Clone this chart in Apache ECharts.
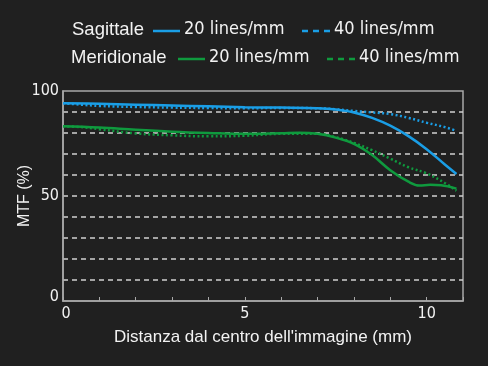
<!DOCTYPE html>
<html><head><meta charset="utf-8">
<style>html,body{margin:0;padding:0;background:#202020;}#c{width:488px;height:366px;}</style>
<script src="https://cdn.jsdelivr.net/npm/echarts@6/dist/echarts.min.js"></script>
</head><body><div id="c"></div>
<script>
// Distance from image centre (mm) and MTF (%) values
const sag20X = [0, 1, 2, 3, 4, 5, 6, 7, 7.5, 8, 8.5, 9, 9.5, 10, 10.5, 10.82];
const sag20Y = [94.2, 93.9, 93.5, 93.1, 92.7, 92.3, 92.1, 91.8, 91.2, 89.8, 87.2, 83.5, 78.5, 72.3, 65, 60.5];
const sag40X = [0, 0.5, 1, 2, 3, 4, 5, 6, 7, 7.5, 8, 8.5, 9, 9.5, 10, 10.5, 10.82];
const sag40Y = [94.2, 93.5, 92.9, 92.4, 92.1, 91.9, 91.8, 91.9, 91.8, 91.3, 90.5, 89.8, 89, 87.2, 84.9, 82.8, 81];
const mer20X = [0, 1, 2, 3, 4, 5, 6, 6.5, 7, 7.5, 8, 8.5, 9, 9.5, 9.8, 10.1, 10.4, 10.6, 10.82];
const mer20Y = [83.2, 82.6, 81.5, 80.6, 80, 79.6, 79.9, 80.1, 79.6, 77.8, 74.8, 69.5, 62.3, 56.8, 55, 55.3, 55.1, 54.5, 53.5];
const mer40X = [0, 0.5, 1, 2, 3, 4, 5, 6, 7, 7.5, 8, 8.5, 9, 9.5, 10, 10.5, 10.82];
const mer40Y = [83.2, 82.8, 81.8, 79.8, 78.9, 78.4, 78.7, 79.6, 79.6, 78, 75.3, 71.8, 67.8, 63.7, 60.8, 56.2, 52.5];
const xTickLabels = [0, 5, 10];
const yTickLabels = [0, 50, 100];
const groupNames = ['Sagittale', 'Meridionale'];
const freqNames = ['20 lines/mm', '40 lines/mm'];

const BLUE = '#1a9ee6', GREEN = '#0f9a3e', TXT = '#f2f2f2';
const TICKFONT = '"DejaVu Sans Condensed", sans-serif';
const pts = (xs, ys) => xs.map((x, i) => [x, ys[i]]);

function legendRow(y, label, labelX, color, l1x, t1x, l2x, t2x) {
  return [
    {type: 'text', left: labelX, top: y - 11, style: {text: label, fill: TXT, font: '18.5px "Liberation Sans", Arial, sans-serif'}},
    {type: 'line', shape: {x1: l1x, y1: y, x2: l1x + 27, y2: y}, style: {stroke: color, lineWidth: 2.5}},
    {type: 'text', left: t1x, top: y - 11, style: {text: freqNames[0], fill: TXT, font: '18px "DejaVu Sans Condensed", sans-serif'}},
    {type: 'line', shape: {x1: l2x, y1: y, x2: l2x + 28, y2: y}, style: {stroke: color, lineWidth: 2.5, lineDash: [6, 5]}},
    {type: 'text', left: t2x, top: y - 11, style: {text: freqNames[1], fill: TXT, font: '18px "DejaVu Sans Condensed", sans-serif'}}
  ];
}

const chart = echarts.init(document.getElementById('c'));
chart.setOption({
  backgroundColor: '#202020',
  animation: false,
  grid: {left: 63, right: 25, top: 91, bottom: 65, show: true, borderColor: '#a8a8a8', borderWidth: 1.5},
  xAxis: {
    type: 'value', min: 0, max: 11, interval: 1,
    name: "Distanza dal centro dell'immagine (mm)", nameLocation: 'middle', nameGap: 28,
    nameTextStyle: {color: TXT, fontSize: 17, fontFamily: '"Liberation Sans", Arial, sans-serif'},
    axisLine: {show: true, lineStyle: {color: '#a8a8a8', width: 1.5}},
    axisTick: {show: true, inside: true, length: 4, lineStyle: {color: '#a8a8a8'}},
    axisLabel: {color: TXT, fontSize: 16, fontFamily: TICKFONT, margin: 5,
      formatter: v => v === 0 ? '{z|0}' : (xTickLabels.includes(v) ? String(v) : ''),
      rich: {z: {fontSize: 16, fontFamily: TICKFONT, color: TXT, padding: [0, 0, 0, 6]}}},
    splitLine: {show: false}
  },
  yAxis: {
    type: 'value', min: 0, max: 100, interval: 10,
    name: 'MTF (%)', nameLocation: 'middle', nameGap: 30, nameRotate: 90, nameMoveOverlap: false,
    nameTextStyle: {color: TXT, fontSize: 16, fontFamily: '"Liberation Sans", Arial, sans-serif'},
    axisLine: {show: true, lineStyle: {color: '#a8a8a8', width: 1.5}},
    axisTick: {show: false},
    axisLabel: {color: TXT, fontSize: 16, fontFamily: TICKFONT, margin: 4,
      formatter: v => v === 0 ? '{z|0}' : (yTickLabels.includes(v) ? String(v) : ''),
      rich: {z: {fontSize: 16, fontFamily: TICKFONT, color: TXT, padding: [0, 0, 8, 0]}}},
    splitLine: {show: true, lineStyle: {color: ['transparent', '#d0d0d0', '#d0d0d0', '#d0d0d0', '#d0d0d0', '#d0d0d0', '#d0d0d0', '#d0d0d0', '#d0d0d0', '#d0d0d0', 'transparent'], type: [5, 4], width: 1.5}}
  },
  graphic: [
    ...legendRow(31, groupNames[0], 72, BLUE, 153, 184, 302, 334),
    ...legendRow(59, groupNames[1], 71, GREEN, 178, 209, 327, 359)
  ],
  series: [
    {name: 'S40', type: 'line', data: pts(sag40X, sag40Y), smooth: 0.4, showSymbol: false, lineStyle: {color: BLUE, width: 2.5, type: [2, 2.5]}},
    {name: 'M40', type: 'line', data: pts(mer40X, mer40Y), smooth: 0.4, showSymbol: false, lineStyle: {color: GREEN, width: 2.5, type: [2, 2.5]}},
    {name: 'S20', type: 'line', data: pts(sag20X, sag20Y), smooth: 0.4, showSymbol: false, lineStyle: {color: BLUE, width: 2.5}},
    {name: 'M20', type: 'line', data: pts(mer20X, mer20Y), smooth: 0.4, showSymbol: false, lineStyle: {color: GREEN, width: 2.5}}
  ]
});
</script></body></html>
